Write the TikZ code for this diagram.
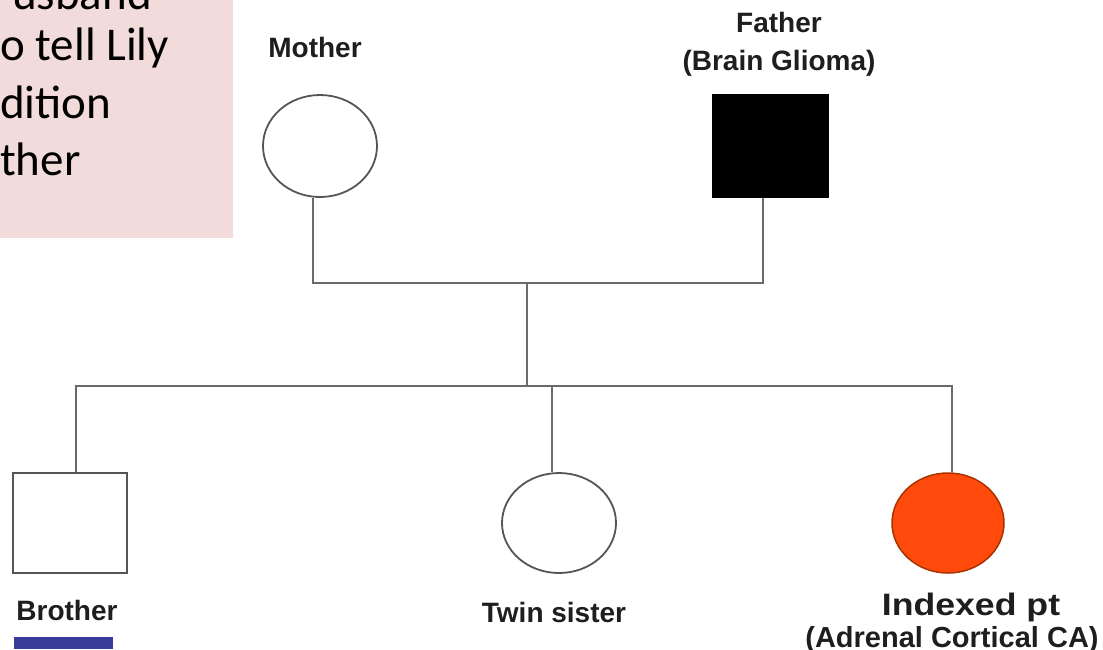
\documentclass[tikz,border=0pt]{standalone}
\usepackage{fontspec}
\setmainfont{Liberation Sans}
\newfontfamily\calib{Carlito}
\usetikzlibrary{shapes.geometric}
\definecolor{pinkbox}{HTML}{F2DCDB}
\definecolor{linegray}{HTML}{6A6A6A}
\definecolor{shapegray}{HTML}{555555}
\definecolor{labelgray}{HTML}{1E1E1E}
\definecolor{idxorange}{HTML}{FF4A0C}
\definecolor{idxborder}{HTML}{A83300}
\definecolor{barblue}{HTML}{3B3B9B}
\begin{document}
\begin{tikzpicture}[x=1pt,y=-1pt,
  conn/.style={draw=linegray,line width=2pt},
  femalebox/.style={ellipse,draw=shapegray,line width=1.8pt,minimum width=114pt,minimum height=102pt,inner sep=0pt},
  malebox/.style={rectangle,draw=shapegray,line width=1.8pt,minimum width=114pt,minimum height=100pt,inner sep=0pt},
  lbl/.style={font=\bfseries\fontsize{28}{32}\selectfont,text=labelgray,inner sep=0pt,anchor=base},
  note/.style={font=\calib\fontsize{47}{57}\selectfont,text=black,inner sep=0pt,anchor=base west}]
\useasboundingbox (0,0) rectangle (1103,649);
\begin{scope}
\clip (0,0) rectangle (1103,649);
\fill[pinkbox] (0,0) rectangle (233,238);
\node[note] (n1) at (12,9) {usband};
\node[note] (n2) at (0,60) {o tell Lily};
\node[note] (n3) at (0,118) {dition};
\node[note] (n4) at (0,175) {ther};

% parents
\node[femalebox] (mother) at (320,146) {};
\node[malebox,fill=black,draw=black,minimum width=115pt,minimum height=102pt] (father) at (770.5,146) {};
\node[lbl] (lmother) at (315,57) {Mother};
\node[lbl] (lfather) at (779,32) {Father};
\node[lbl] (lglioma) at (779,70) {(Brain Glioma)};

% children
\node[malebox] (brother) at (70,523) {};
\node[femalebox,minimum height=100pt] (twin) at (559,523) {};
\node[ellipse,fill=idxorange,draw=idxborder,line width=1.5pt,minimum width=112pt,minimum height=100pt,inner sep=0pt] (index) at (948,523) {};
\node[lbl] (lbrother) at (67,620) {Brother};
\node[lbl] (ltwin) at (554,622) {Twin sister};
\node[lbl,font=\bfseries\fontsize{31}{34}\selectfont] (lindex) at (971,615) {\scalebox{1.15}[1]{Indexed pt}};
\node[lbl,font=\bfseries\fontsize{29}{32}\selectfont] (ladrenal) at (952,647) {(Adrenal Cortical CA)};
\fill[barblue] (14,637) rectangle (113,649);

% connectors
\coordinate (pm) at (313,283);
\coordinate (pf) at (763,283);
\coordinate (mid) at (527,283);
\coordinate (sj) at (527,386);
\coordinate (bl) at (76,386);
\coordinate (tj) at (552,386);
\coordinate (br) at (952,386);
\draw[conn] (mother.south -| pm) -- (pm) -- (pf) -- (father.south -| pf);
\draw[conn] (mid) -- (sj);
\draw[conn] (brother.north -| bl) -- (bl) -- (br) -- (index.north -| br);
\draw[conn] (tj) -- (twin.north -| tj);
\end{scope}
\end{tikzpicture}
\end{document}
